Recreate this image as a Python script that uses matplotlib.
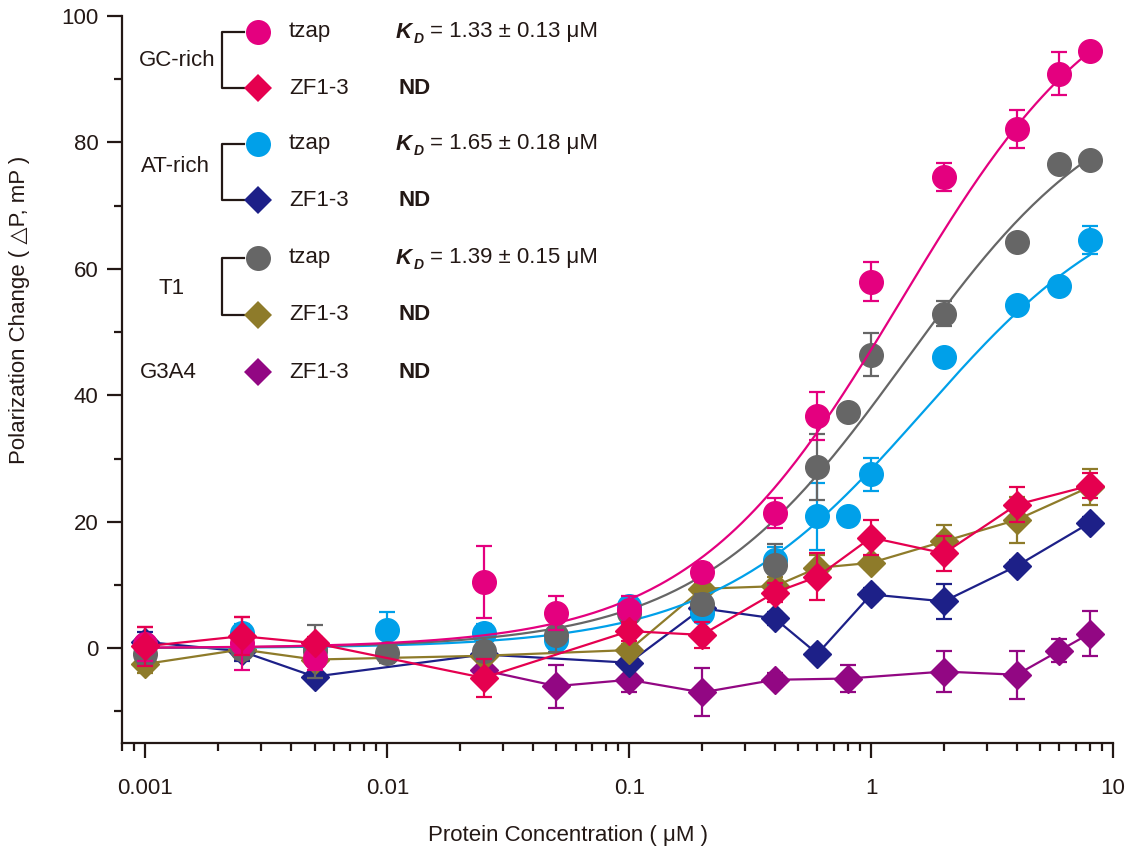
import numpy as np
import matplotlib
matplotlib.use("Agg")
import matplotlib.pyplot as plt
from matplotlib.lines import Line2D
from matplotlib.ticker import FixedLocator, NullFormatter

plt.rcParams['font.family'] = ['Liberation Sans', 'DejaVu Sans']

# --- data (protein concentration in uM, polarization change in mP) ---
gc_tzap_x = [0.001, 0.0025, 0.005, 0.025, 0.05, 0.1, 0.2, 0.4, 0.6, 1, 2, 4, 6, 8]
gc_tzap_y = [0.6, 0.8, -1.5, 10.4, 5.6, 6.1, 12.0, 21.4, 36.8, 58.0, 74.5, 82.1, 90.9, 94.5]
gc_tzap_err = [2.7, 4.2, 2.0, 5.7, 2.7, 2.2, 1.5, 2.4, 3.8, 3.1, 2.2, 3.0, 3.4, 1.0]

at_tzap_x = [0.001, 0.0025, 0.005, 0.01, 0.025, 0.05, 0.1, 0.2, 0.4, 0.6, 0.8, 1, 2, 4, 6, 8]
at_tzap_y = [0.5, 2.4, 0.0, 2.9, 2.4, 1.3, 6.6, 5.6, 14.0, 20.9, 20.9, 27.5, 46.0, 54.3, 57.3, 64.6]
at_tzap_err = [1.0, 1.5, 1.0, 2.8, 1.5, 1.5, 1.5, 1.5, 2.0, 5.3, 1.0, 2.6, 1.0, 1.0, 1.0, 2.2]

t1_tzap_x = [0.001, 0.0025, 0.005, 0.01, 0.025, 0.05, 0.1, 0.2, 0.4, 0.6, 0.8, 1, 2, 4, 6, 8]
t1_tzap_y = [-1.0, -0.2, -0.5, -0.8, -0.5, 2.1, 5.5, 7.0, 13.2, 28.6, 37.4, 46.4, 52.9, 64.2, 76.6, 77.3]
t1_tzap_err = [1.5, 1.5, 4.2, 1.5, 1.5, 2.7, 1.5, 1.5, 3.2, 5.2, 1.0, 3.4, 2.0, 1.0, 1.0, 1.0]

zf_x = [0.001, 0.0025, 0.005, 0.025, 0.1, 0.2, 0.4, 0.6, 1, 2, 4, 8]
gc_zf_y = [0.3, 1.9, 0.8, -4.7, 2.7, 2.1, 8.8, 11.3, 17.5, 15.0, 22.7, 25.7]
gc_zf_err = [3.1, 3.0, 1.0, 3.0, 1.5, 2.0, 1.5, 3.7, 2.7, 2.8, 2.8, 2.0]
at_zf_y = [1.0, -0.5, -4.5, -1.0, -2.3, 6.3, 4.7, -0.9, 8.5, 7.4, 13.0, 19.8]
at_zf_err = [1.5, 1.5, 1.0, 1.0, 1.0, 1.0, 1.0, 1.0, 1.0, 2.8, 1.0, 1.0]
t1_zf_y = [-2.5, -0.2, -1.8, -1.2, -0.3, 9.4, 9.8, 12.7, 13.5, 16.9, 20.3, 25.5]
t1_zf_err = [1.5, 1.0, 1.0, 1.0, 1.0, 1.0, 1.5, 2.0, 1.0, 2.6, 3.6, 2.9]

g3a4_x = [0.025, 0.05, 0.1, 0.2, 0.4, 0.8, 2, 4, 6, 8]
g3a4_y = [-3.5, -6.0, -5.0, -7.0, -5.0, -4.8, -3.7, -4.2, -0.4, 2.3]
g3a4_err = [1.5, 3.4, 2.0, 3.8, 1.0, 2.2, 3.3, 3.8, 1.8, 3.6]

# one-site binding fits: (Kd, Bmax)
fit_gc = (1.33, 110.0)
fit_at = (1.65, 75.0)
fit_t1 = (1.39, 91.0)

kd_labels = ["1.33 \u00b1 0.13 \u03bcM", "1.65 \u00b1 0.18 \u03bcM", "1.39 \u00b1 0.15 \u03bcM"]

# --- colours ---
PINK = '#E4007F'
RED = '#E5004F'
BLUE = '#00A0E9'
NAVY = '#1D2088'
GRAY = '#666666'
OLIVE = '#8E7B2A'
PURPLE = '#920783'
INK = '#231815'

W, H = 1127, 856
fig = plt.figure(figsize=(W / 100, H / 100), dpi=100)
ax = fig.add_axes([122 / W, 1 - 743 / H, (1113 - 122) / W, (743 - 16) / H])

ax.set_xscale('log')
ax.set_xlim(0.0008, 10)
ax.set_ylim(-15, 100)

CIRC = 17
DIAM = 14


def series(x, y, err, marker, color, ms, line, z):
    ax.errorbar(x, y, yerr=err, fmt=marker + ('-' if line else ''), color=color,
                ms=ms, mec=color, lw=1.6, elinewidth=1.6, capsize=6, capthick=1.6,
                zorder=z)


def fit_curve(params, color, z):
    kd, bmax = params
    xs = np.logspace(-3, np.log10(8), 300)
    ax.plot(xs, bmax * xs / (kd + xs), color=color, lw=1.6, zorder=z)


series(g3a4_x, g3a4_y, g3a4_err, 'D', PURPLE, DIAM, True, 3)
series(zf_x, at_zf_y, at_zf_err, 'D', NAVY, DIAM, True, 4)
series(zf_x, t1_zf_y, t1_zf_err, 'D', OLIVE, DIAM, True, 5)
series(at_tzap_x, at_tzap_y, at_tzap_err, 'o', BLUE, CIRC, False, 6)
series(t1_tzap_x, t1_tzap_y, t1_tzap_err, 'o', GRAY, CIRC, False, 7)
series(gc_tzap_x, gc_tzap_y, gc_tzap_err, 'o', PINK, CIRC, False, 8)
series(zf_x, gc_zf_y, gc_zf_err, 'D', RED, DIAM, True, 9)
fit_curve(fit_at, BLUE, 6.5)
fit_curve(fit_t1, GRAY, 7.5)
fit_curve(fit_gc, PINK, 8.5)

# --- axes styling ---
for side in ['top', 'right']:
    ax.spines[side].set_visible(False)
for side in ['left', 'bottom']:
    ax.spines[side].set_color(INK)
    ax.spines[side].set_linewidth(1.6)

ax.set_yticks([0, 20, 40, 60, 80, 100])
ax.yaxis.set_minor_locator(FixedLocator([-10, 10, 30, 50, 70, 90]))
ax.set_xticks([0.001, 0.01, 0.1, 1, 10], labels=['0.001', '0.01', '0.1', '1', '10'])
ax.xaxis.set_minor_formatter(NullFormatter())
ax.tick_params(which='major', length=11, width=1.6, color=INK, labelsize=16, labelcolor=INK)
ax.tick_params(which='minor', length=5.5, width=1.6, color=INK)
ax.tick_params(axis='x', which='major', pad=14)
ax.tick_params(axis='y', which='major', pad=6)

fig.text(568 / W, 1 - 836 / H, 'Protein Concentration ( \u03bcM )', fontsize=16,
         color=INK, ha='center', va='center')
fig.text(20 / W, 1 - 310 / H, 'Polarization Change ( \u25b3P, mP )', fontsize=16,
         color=INK, ha='center', va='center', rotation=90)


# --- custom legend drawn in pixel positions ---
def fx(px):
    return px / W


def fy(py):
    return 1 - py / H


def put(px, py, s, **kw):
    fig.text(fx(px), fy(py), s, fontsize=16, color=INK, va='center', **kw)


def glyph(py, marker, color, ms):
    fig.add_artist(Line2D([fx(258)], [fy(py)], marker=marker, ms=ms, color=color,
                          mew=0, transform=fig.transFigure))


def bracket(y0, y1):
    fig.add_artist(Line2D([fx(244), fx(222), fx(222), fx(244)],
                          [fy(y0), fy(y0), fy(y1), fy(y1)], color=INK, lw=1.6,
                          transform=fig.transFigure))


def kd_text(py, s):
    put(396, py, 'K', fontweight='bold', style='italic')
    fig.text(fx(414), fy(py + 7), 'D', fontsize=10, color=INK, va='center',
             fontweight='bold', style='italic')
    put(430, py, '= ' + s)


groups = [('GC-rich', 177, 60, 32, 88, PINK, RED, kd_labels[0]),
          ('AT-rich', 175, 167, 144, 200, BLUE, NAVY, kd_labels[1]),
          ('T1', 172, 288, 258, 315, GRAY, OLIVE, kd_labels[2])]
for name, cx, cy, ya, yb, c1, c2, kd in groups:
    put(cx, cy, name, ha='center')
    bracket(ya, yb)
    glyph(ya, 'o', c1, 18)
    glyph(yb, 'D', c2, 14.5)
    put(289, ya - 1, 'tzap')
    put(289, yb, 'ZF1-3')
    kd_text(ya, kd)
    put(398, yb, 'ND', fontweight='bold')

put(168, 372, 'G3A4', ha='center')
glyph(372, 'D', PURPLE, 14.5)
put(289, 372, 'ZF1-3')
put(398, 372, 'ND', fontweight='bold')

fig.savefig('out.png', dpi=100)
